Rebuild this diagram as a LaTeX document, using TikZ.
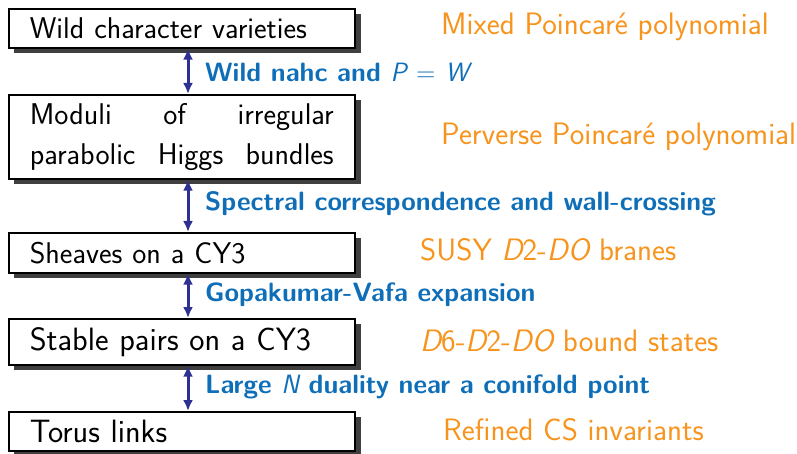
\documentclass[tikz,border=0pt]{standalone}
\usetikzlibrary{arrows.meta}
\definecolor{arrowblue}{HTML}{2E3192}
\definecolor{labelblue}{HTML}{0E6EB8}
\definecolor{labelorange}{HTML}{F7941D}
\definecolor{shadowgray}{HTML}{3F3F3F}
\newcommand{\varsym}[1]{{\mdseries\itshape #1}}
\tikzset{
  box/.style={draw=black, line width=1.6pt, fill=white, anchor=north west,
    minimum width=346pt, inner xsep=21pt, inner ysep=0pt, text width=304pt, align=left,
    font=\fontsize{30}{40}\selectfont\sffamily},
  bigtext/.style={font=\fontsize{32.3}{40}\selectfont\sffamily},
  shadowfill/.style={fill=shadowgray, draw=none},
  link/.style={draw=arrowblue, line width=3pt, {Latex[length=11pt,width=10pt]}-{Latex[length=11pt,width=10pt]}},
  rel/.style={text=labelblue, anchor=west, inner sep=0pt, font=\fontsize{26.5}{32}\selectfont\sffamily\bfseries},
  note/.style={text=labelorange, anchor=west, inner sep=0pt, font=\fontsize{31}{36}\selectfont\sffamily},
}
\begin{document}
\begin{tikzpicture}[x=1pt,y=-1pt]
\useasboundingbox (0,0) rectangle (797,454);
% drop shadows behind the boxes
\foreach \ytop/\ybot in {8/47, 94/178, 232/272, 318/364, 411/450}
  \fill[shadowfill] (14,\ytop+6) rectangle (361,\ybot+6);
% boxes
\node[box, minimum height=39pt] (b1) at (8,8) {Wild character varieties};
\node[box, minimum height=84pt] (b2) at (8,94) {Moduli\hfill of\hfill irregular\\parabolic\hfill Higgs\hfill bundles};
\node[box, minimum height=40pt] (b3) at (8,232) {Sheaves on a CY3};
\node[box, bigtext, minimum height=46pt] (b4) at (8,318) {Stable pairs on a CY3};
\node[box, bigtext, minimum height=39pt] (b5) at (8,411) {Torus links};
% connectors
\coordinate (ax) at (188,0);
\draw[link] (b1.south -| ax) -- (b2.north -| ax);
\draw[link] (b2.south -| ax) -- (b3.north -| ax);
\draw[link] (b3.south -| ax) -- (b4.north -| ax);
\draw[link] (b4.south -| ax) -- (b5.north -| ax);
% labels
\node[rel] (r1) at (205,72) {Wild nahc and \varsym{P} {\mdseries =} \varsym{W}};
\node[rel] (r2) at (205,204) {Spectral correspondence and wall-crossing};
\node[rel] (r3) at (205,295) {Gopakumar-Vafa expansion};
\node[rel] (r4) at (205,387) {Large \varsym{N} duality near a conifold point};
\node[note] (n1) at (441,27) {Mixed Poincaré polynomial};
\node[note] (n2) at (441,137) {Perverse Poincaré polynomial};
\node[note] (n3) at (420,250) {SUSY \varsym{D}2-\varsym{DO} branes};
\node[note] (n4) at (420,341) {\varsym{D}6-\varsym{D}2-\varsym{DO} bound states};
\node[note] (n5) at (443,430) {Refined CS invariants};
\end{tikzpicture}
\end{document}
